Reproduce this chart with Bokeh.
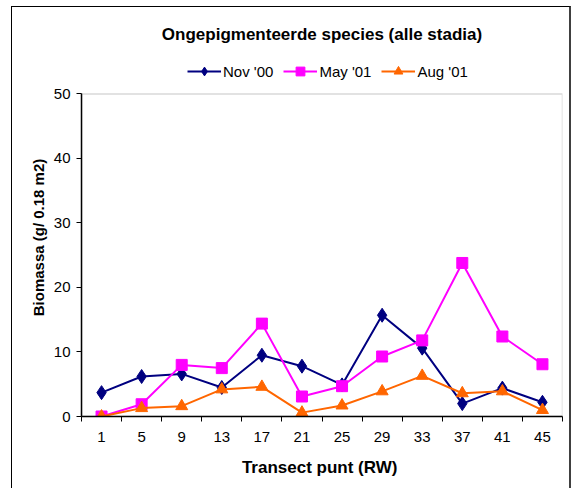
from bokeh.plotting import figure
from bokeh.models import FixedTicker, Legend, LegendItem, Range1d, Title, BoxAnnotation
from bokeh.embed import file_html
from bokeh.resources import INLINE

categories = ["1", "5", "9", "13", "17", "21", "25", "29", "33", "37", "41", "45"]
nov00 = [3.7, 6.2, 6.6, 4.5, 9.5, 7.8, 4.9, 15.7, 10.6, 2.0, 4.4, 2.2]
may01 = [0.0, 1.9, 8.0, 7.5, 14.4, 3.1, 4.7, 9.3, 11.8, 23.8, 12.4, 8.1]
aug01 = [0.0, 1.3, 1.6, 4.2, 4.6, 0.6, 1.7, 3.9, 6.3, 3.6, 3.9, 1.0]
y_ticks = [0, 10, 20, 30, 40, 50]
Y_MAX = 50

xs = list(range(1, len(categories) + 1))
FONT = "Liberation Sans"

# frame extends a little above the value axis to host the legend
p = figure(width=560, height=482, output_backend="svg", toolbar_location=None,
           x_range=Range1d(0.5, len(categories) + 0.5), y_range=Range1d(0, 55.5),
           min_border_left=69, min_border_right=10, min_border_bottom=73, min_border_top=51)
p.styles = {"margin-left": "11px", "margin-top": "6px",
            "border-left": "1px solid black", "border-top": "1px solid black",
            "border-right": "2px solid #404040"}
p.xgrid.visible = False
p.ygrid.visible = False
p.outline_line_color = None

p.title = Title(text="Ongepigmenteerde species (alle stadia)", align="center",
                text_font=FONT, text_font_size="17px", text_font_style="bold",
                text_color="black", standoff=30)

# plot-area box (grey top/right edges)
p.add_layout(BoxAnnotation(left=0.5, right=len(categories) + 0.5, bottom=0, top=Y_MAX,
                           fill_color=None, line_color="#808080", line_width=1.5,
                           level="underlay"))

# axes
xa = p.xaxis[0]
xa.ticker = FixedTicker(ticks=xs, minor_ticks=[x + 0.5 for x in range(0, len(categories) + 1)])
xa.major_label_overrides = {x: c for x, c in zip(xs, categories)}
xa.major_tick_out = 0
xa.major_tick_in = 0
xa.minor_tick_out = 5
xa.minor_tick_in = 0
xa.minor_tick_line_color = "black"
xa.axis_line_color = "black"
xa.axis_line_width = 1.5
xa.major_label_text_font = FONT
xa.major_label_text_font_size = "15px"
xa.major_label_text_color = "black"
xa.major_label_standoff = 10
xa.axis_label = "Transect punt  (RW)"
xa.axis_label_text_font = FONT
xa.axis_label_text_font_size = "17px"
xa.axis_label_text_font_style = "bold"
xa.axis_label_text_color = "black"
xa.axis_label_standoff = 13

ya = p.yaxis[0]
ya.ticker = FixedTicker(ticks=y_ticks, minor_ticks=[])
ya.bounds = (0, Y_MAX)
ya.major_tick_out = 5
ya.major_tick_in = 0
ya.major_tick_line_color = "black"
ya.axis_line_color = "black"
ya.axis_line_width = 1.5
ya.major_label_text_font = FONT
ya.major_label_text_font_size = "15px"
ya.major_label_text_color = "black"
ya.major_label_standoff = 6
ya.axis_label = "Biomassa (g/ 0.18 m2)"
ya.axis_label_text_font = FONT
ya.axis_label_text_font_size = "15px"
ya.axis_label_text_font_style = "bold"
ya.axis_label_text_color = "black"
ya.axis_label_standoff = 4

series = [
    ("Nov '00", nov00, "#000080", "diamond", 14),
    ("May '01", may01, "#FF00FF", "square", 11),
    ("Aug '01", aug01, "#FF6600", "triangle", 12),
]
items = []
for name, vals, color, marker, size in series:
    l = p.line(xs, vals, line_color=color, line_width=2)
    s = p.scatter(xs, vals, marker=marker, size=size, fill_color=color, line_color=color)
    items.append(LegendItem(label=name, renderers=[l, s]))

legend = Legend(items=items, orientation="horizontal", location=(106, 334),
                label_text_font=FONT, label_text_font_size="15px", label_text_color="black",
                glyph_width=34, glyph_height=22, label_standoff=2, spacing=10,
                border_line_color=None, background_fill_alpha=0,
                padding=0, margin=0)
p.add_layout(legend, "center")

open("out.html", "w").write(file_html(p, INLINE))
